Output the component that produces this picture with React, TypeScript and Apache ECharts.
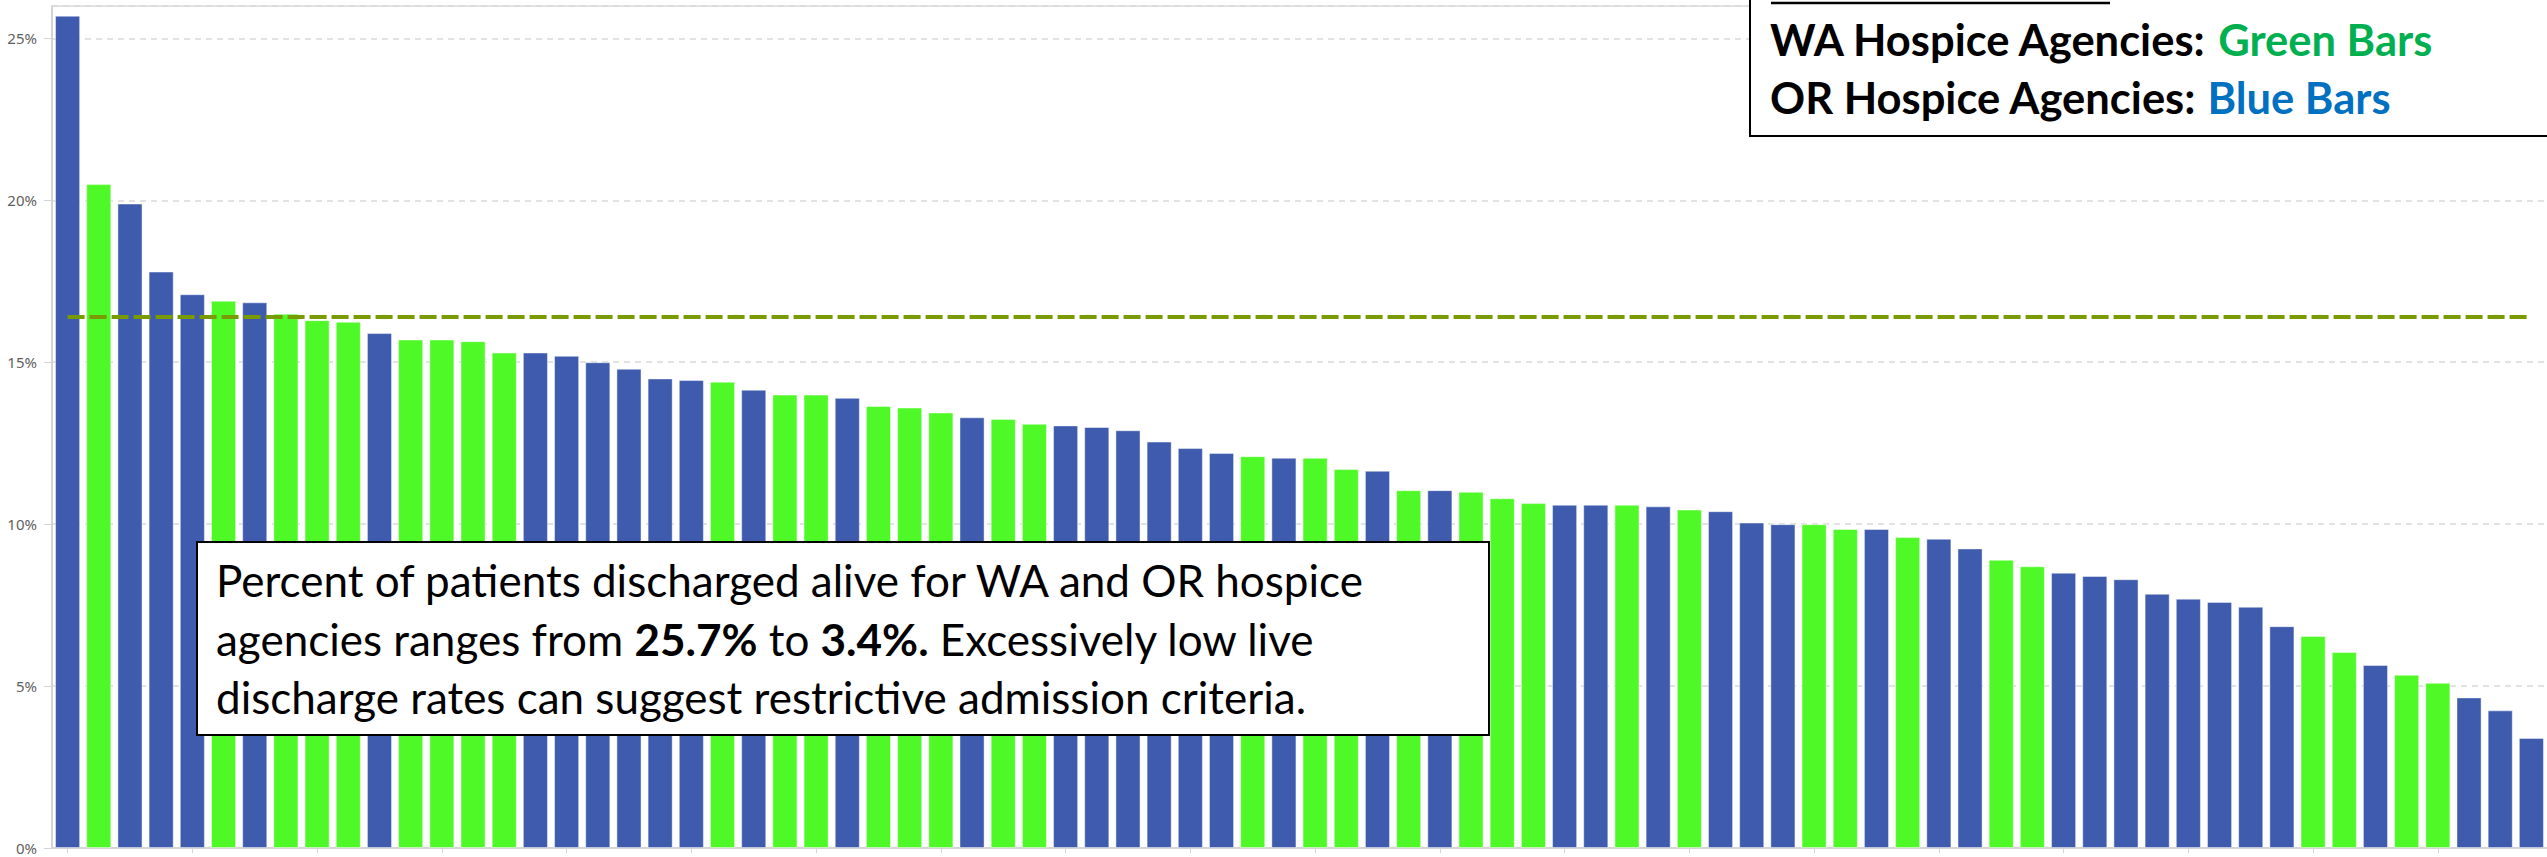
import React, { useEffect, useRef } from "react";
import * as echarts from "echarts";

// State of each hospice agency, in the order the bars are drawn
const states = [
  "OR", "WA", "OR", "OR", "OR", "WA", "OR", "WA", "WA", "WA",
  "OR", "WA", "WA", "WA", "WA", "OR", "OR", "OR", "OR", "OR",
  "OR", "WA", "OR", "WA", "WA", "OR", "WA", "WA", "WA", "OR",
  "WA", "WA", "OR", "OR", "OR", "OR", "OR", "OR", "WA", "OR",
  "WA", "WA", "OR", "WA", "OR", "WA", "WA", "WA", "OR", "OR",
  "WA", "OR", "WA", "OR", "OR", "OR", "WA", "WA", "OR", "WA",
  "OR", "OR", "WA", "WA", "OR", "OR", "OR", "OR", "OR", "OR",
  "OR", "OR", "WA", "WA", "OR", "WA", "WA", "OR", "OR", "OR",
];

// Percent of patients discharged alive
const liveDischargePct = [
  25.7, 20.5, 19.9, 17.8, 17.1, 16.9, 16.85, 16.5, 16.3, 16.25,
  15.9, 15.7, 15.7, 15.65, 15.3, 15.3, 15.2, 15.0, 14.8, 14.5,
  14.45, 14.4, 14.15, 14.0, 14.0, 13.9, 13.65, 13.6, 13.45, 13.3,
  13.25, 13.1, 13.05, 13.0, 12.9, 12.55, 12.35, 12.2, 12.1, 12.05,
  12.05, 11.7, 11.65, 11.05, 11.05, 11.0, 10.8, 10.65, 10.6, 10.6,
  10.6, 10.55, 10.45, 10.4, 10.05, 10.0, 10.0, 9.85, 9.85, 9.6,
  9.55, 9.25, 8.9, 8.7, 8.5, 8.4, 8.3, 7.85, 7.7, 7.6,
  7.45, 6.85, 6.55, 6.05, 5.65, 5.35, 5.1, 4.65, 4.25, 3.4,
];

const categories = states.map((s, i) => `${s} agency ${i + 1}`);

const averagePct = 16.4;

const stateColors: Record<string, string> = { WA: "#4FF927", OR: "#3E5BAE" };

const legendLines = [
  "WA Hospice Agencies: {g|Green Bars}",
  "OR Hospice Agencies: {b|Blue Bars}",
];

const noteLines = [
  "Percent of patients discharged alive for WA and OR hospice",
  "agencies ranges from {b|25.7%} to {b|3.4%.} Excessively low live",
  "discharge rates can suggest restrictive admission criteria.",
];

const FONT = "Lato, 'Noto Sans', sans-serif";
const NOTE_SIZE = 44;
const LEGEND_SIZE = 43.5;

export default function App() {
  const ref = useRef<HTMLDivElement>(null);

  useEffect(() => {
    if (!ref.current) return;
    const chart = echarts.init(ref.current, undefined, { renderer: "svg" });

    const option: any = {
      animation: false,
      backgroundColor: "#ffffff",
      grid: { left: 52, top: 6, width: 2504, height: 842, containLabel: false },
      xAxis: [
        {
          type: "category",
          data: categories,
          offset: 7,
          axisLine: { show: true, lineStyle: { color: "#d4d4d4", width: 2 } },
          axisTick: { show: true, alignWithLabel: true, length: 5, lineStyle: { color: "#d4d4d4" } },
          axisLabel: { show: false },
          splitLine: { show: false },
        },
        {
          type: "category",
          data: categories,
          position: "top",
          axisLine: { show: true, lineStyle: { color: "#dadada", width: 1.5 } },
          axisTick: { show: false },
          axisLabel: { show: false },
          splitLine: { show: false },
        },
      ],
      yAxis: {
        type: "value",
        min: 0,
        max: 26,
        interval: 5,
        axisLine: { show: true, lineStyle: { color: "#d4d4d4", width: 2 } },
        axisTick: { show: true, length: 8, lineStyle: { color: "#d4d4d4" } },
        axisLabel: {
          formatter: "{value}%",
          color: "#5f5f5f",
          fontSize: 15,
          lineHeight: 15,
          fontFamily: "'Noto Sans', sans-serif",
          margin: 15,
          showMaxLabel: false,
        },
        splitLine: { show: true, lineStyle: { color: "#d9d9d9", width: 1.5, type: [6, 5] } },
      },
      series: [
        {
          type: "bar",
          xAxisIndex: 0,
          barCategoryGap: "19.5%",
          data: liveDischargePct.map((v, i) => ({
            value: v,
            itemStyle: { color: stateColors[states[i]] },
          })),
          itemStyle: { borderColor: "rgba(255,255,255,0.45)", borderWidth: 1 },
          emphasis: { disabled: true },
          markLine: {
            silent: true,
            symbol: "none",
            label: { show: false },
            lineStyle: { color: "#7A9A01", width: 4, type: [17, 5], opacity: 1 },
            emphasis: { disabled: true },
            data: [
              [
                { coord: [categories[0], averagePct] },
                { coord: [categories[categories.length - 1], averagePct] },
              ],
            ],
          },
        },
      ],
      graphic: [
        {
          type: "rect",
          z: 100,
          shape: { x: 1750, y: -10, width: 820, height: 146 },
          style: { fill: "#ffffff", stroke: "#000000", lineWidth: 2 },
        },
        {
          type: "line",
          z: 101,
          shape: { x1: 1771, y1: 3, x2: 2110, y2: 3 },
          style: { stroke: "#000000", lineWidth: 2.5 },
        },
        ...legendLines.map((t, i) => ({
          type: "text",
          z: 101,
          x: 1770,
          y: 39 + i * 58,
          style: {
            text: t,
            fill: "#000000",
            fontFamily: FONT,
            fontWeight: "bold",
            fontSize: LEGEND_SIZE,
            verticalAlign: "middle",
            rich: {
              g: { fill: "#00B050", fontFamily: FONT, fontWeight: "bold", fontSize: LEGEND_SIZE },
              b: { fill: "#0070C0", fontFamily: FONT, fontWeight: "bold", fontSize: LEGEND_SIZE },
            },
          },
        })),
        {
          type: "rect",
          z: 100,
          shape: { x: 197, y: 542, width: 1292, height: 193 },
          style: { fill: "#ffffff", stroke: "#000000", lineWidth: 2 },
        },
        ...noteLines.map((t, i) => ({
          type: "text",
          z: 101,
          x: 216,
          y: 580 + i * 58.5,
          style: {
            text: t,
            fill: "#000000",
            fontFamily: FONT,
            fontSize: NOTE_SIZE,
            verticalAlign: "middle",
            rich: {
              b: { fill: "#000000", fontFamily: FONT, fontWeight: "bold", fontSize: NOTE_SIZE },
            },
          },
        })),
      ],
    };

    chart.setOption(option);
    return () => chart.dispose();
  }, []);

  return (
    <div
      ref={ref}
      style={{ position: "absolute", left: 0, top: 0, width: 2547, height: 857 }}
    />
  );
}
